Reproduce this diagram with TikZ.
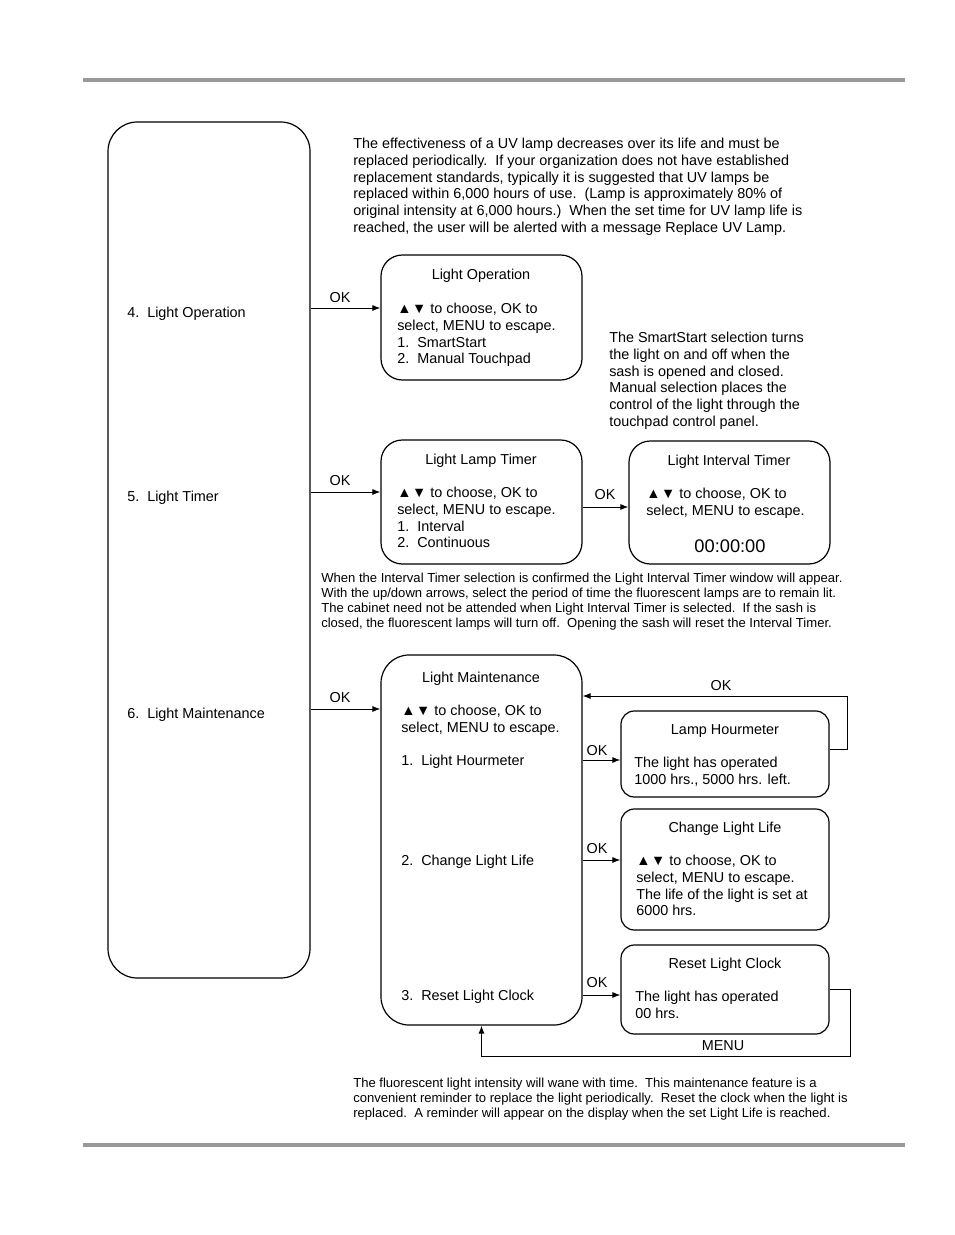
\documentclass[tikz,border=0pt]{standalone}
\usepackage{fontspec}
\setmainfont{Liberation Sans}
\usetikzlibrary{arrows.meta}
\usepackage{xcolor}

% 上下箭头符号
\newcommand{\updn}{▲\kern0.5pt▼}

\begin{document}
\begin{tikzpicture}[x=0.75pt, y=-0.75pt]
        % ================= 样式定义 =================
        \tikzset{
            % 圆角框:尺寸按原图像素换算
            box/.style={draw=black, line width=0.9pt, rounded corners=16pt, inner sep=0pt},
            sbox/.style={box, rounded corners=10pt},
            txt/.style={inner sep=0pt, align=left, font=\fontsize{10.8}{12.5}\selectfont},
            small/.style={inner sep=0pt, align=left, font=\fontsize{9.8}{11.25}\selectfont},
            flow/.style={line width=0.7pt, -{Latex[length=6pt,width=4.5pt]}},
            rule/.style={line width=2.4pt, draw=black!40}
        }

        % 画布与页眉页脚灰线
        \fill[white] (0,0) rectangle (954,1235);
        \useasboundingbox (0,0) rectangle (954,1235);
        \draw[rule] (83,80) -- (905,80);
        \draw[rule] (83,1145) -- (905,1145);

        % ================= 左侧菜单框 =================
        \node[box, rounded corners=22pt, minimum width=151.5pt, minimum height=642pt] (lbox) at (209,550) {};
        \node[txt, anchor=base west] (m4) at (127,317) {4.\ \ Light Operation};
        \node[txt, anchor=base west] (m5) at (127,501) {5.\ \ Light Timer};
        \node[txt, anchor=base west] (m6) at (127,718) {6.\ \ Light Maintenance};

        % 顶部说明文字
        \node[txt, anchor=north west] (uvnote) at (353,138) {The effectiveness of a UV lamp decreases over its life and must be\\
            replaced periodically.\ \ If your organization does not have established\\
            replacement standards, typically it is suggested that UV lamps be\\
            replaced within 6,000 hours of use.\ \ (Lamp is approximately 80\% of\\
            original intensity at 6,000 hours.)\ \ When the set time for UV lamp life is\\
            reached, the user will be alerted with a message Replace UV Lamp.};

        % ================= 4. Light Operation =================
        \node[box, minimum width=150.75pt, minimum height=93.75pt] (lop) at (481.5,317.5) {};
        \node[txt, anchor=base] (lop-t) at (481,279) {Light Operation};
        \node[txt, anchor=north west] (lop-b) at (397,303) {\updn{} to choose, OK to\\
            select, MENU to escape.\\ 1.\ \ SmartStart\\ 2.\ \ Manual Touchpad};
        \node[txt, anchor=north west] (ssnote) at (609,332) {The SmartStart selection turns\\
            the light on and off when the\\ sash is opened and closed.\\
            Manual selection places the\\ control of the light through the\\
            touchpad control panel.};

        % ================= 5. Light Timer =================
        \node[box, minimum width=150.75pt, minimum height=93pt] (ltimer) at (481.5,502) {};
        \node[txt, anchor=base] (ltimer-t) at (481,464) {Light Lamp Timer};
        \node[txt, anchor=north west] (ltimer-b) at (397,487) {\updn{} to choose, OK to\\
            select, MENU to escape.\\ 1.\ \ Interval\\ 2.\ \ Continuous};

        \node[box, minimum width=150.75pt, minimum height=92.25pt] (lint) at (729.5,502.5) {};
        \node[txt, anchor=base] (lint-t) at (729,465) {Light Interval Timer};
        \node[txt, anchor=north west] (lint-b) at (646,488) {\updn{} to choose, OK to\\
            select, MENU to escape.};
        \node[txt, anchor=base, font=\fontsize{13.7}{15}\selectfont] (lint-c) at (730,552) {00:00:00};

        \node[small, anchor=north west] (tmnote) at (321,573) {When the Interval Timer selection is confirmed the Light Interval Timer window will appear.\\
            With the up/down arrows, select the period of time the fluorescent lamps are to remain lit.\\
            The cabinet need not be attended when Light Interval Timer is selected.\ \ If the sash is\\
            closed, the fluorescent lamps will turn off.\ \ Opening the sash will reset the Interval Timer.};

        % ================= 6. Light Maintenance =================
        \node[box, rounded corners=21pt, minimum width=150.75pt, minimum height=277.5pt] (lmaint) at (481.5,840) {};
        \node[txt, anchor=base] (lmaint-t) at (481,682) {Light Maintenance};
        \node[txt, anchor=north west] (lmaint-b) at (401,705) {\updn{} to choose, OK to\\
            select, MENU to escape.};
        \node[txt, anchor=base west] (i1) at (401,765) {1.\ \ Light Hourmeter};
        \node[txt, anchor=base west] (i2) at (401,865) {2.\ \ Change Light Life};
        \node[txt, anchor=base west] (i3) at (401,1000) {3.\ \ Reset Light Clock};

        \node[sbox, minimum width=156pt, minimum height=64.5pt] (lhour) at (725,754) {};
        \node[txt, anchor=base] (lhour-t) at (725,734) {Lamp Hourmeter};
        \node[txt, anchor=north west] (lhour-b) at (634,757) {The light has operated\\
            1000 hrs., 5000 hrs. left.};

        \node[sbox, minimum width=156pt, minimum height=90.75pt] (llife) at (725,869.5) {};
        \node[txt, anchor=base] (llife-t) at (725,832) {Change Light Life};
        \node[txt, anchor=north west] (llife-b) at (636,855) {\updn{} to choose, OK to\\
            select, MENU to escape.\\ The life of the light is set at\\ 6000 hrs.};

        \node[sbox, minimum width=156pt, minimum height=66.75pt] (lreset) at (725,989.5) {};
        \node[txt, anchor=base] (lreset-t) at (725,968) {Reset Light Clock};
        \node[txt, anchor=north west] (lreset-b) at (635,991) {The light has operated\\ 00 hrs.};

        \node[small, anchor=north west] (mtnote) at (353,1078) {The fluorescent light intensity will wane with time.\ \ This maintenance feature is a\\
            convenient reminder to replace the light periodically.\ \ Reset the clock when the light is\\
            replaced.\ \ A reminder will appear on the display when the set Light Life is reached.};

        % ================= 连线 =================
        \coordinate (y1) at (0,308);
        \coordinate (y2) at (0,492);
        \coordinate (y3) at (0,507);
        \coordinate (y4) at (0,709);
        \coordinate (y5) at (0,760);
        \coordinate (y6) at (0,860);
        \coordinate (y7) at (0,995);
        \coordinate (y8) at (0,749);
        \coordinate (y9) at (0,696);
        \coordinate (y10) at (0,989);
        \coordinate (y11) at (0,1056);

        \draw[flow] (lbox.east |- y1) -- (lop.west |- y1);
        \draw[flow] (lbox.east |- y2) -- (ltimer.west |- y2);
        \draw[flow] (ltimer.east |- y3) -- (lint.west |- y3);
        \draw[flow] (lbox.east |- y4) -- (lmaint.west |- y4);
        \draw[flow] (lmaint.east |- y5) -- (lhour.west |- y5);
        \draw[flow] (lmaint.east |- y6) -- (llife.west |- y6);
        \draw[flow] (lmaint.east |- y7) -- (lreset.west |- y7);

        % 回路: OK 返回, MENU 返回
        \draw[flow] (lhour.east |- y8) -- ++(18,0) |- (lmaint.east |- y9);
        \draw[flow] (lreset.east |- y10) -- ++(21,0) |- (lmaint.south |- y11) -- (lmaint.south);

        % 连线标签
        \node[txt] (ok1) at (340,298) {OK};
        \node[txt] (ok2) at (340,481) {OK};
        \node[txt] (ok3) at (605,495) {OK};
        \node[txt] (ok4) at (340,698) {OK};
        \node[txt] (ok5) at (597,751) {OK};
        \node[txt] (ok6) at (597,849) {OK};
        \node[txt] (ok7) at (597,983) {OK};
        \node[txt] (ok8) at (721,686) {OK};
        \node[txt] (menu) at (723,1046) {MENU};

\end{tikzpicture}
\end{document}
